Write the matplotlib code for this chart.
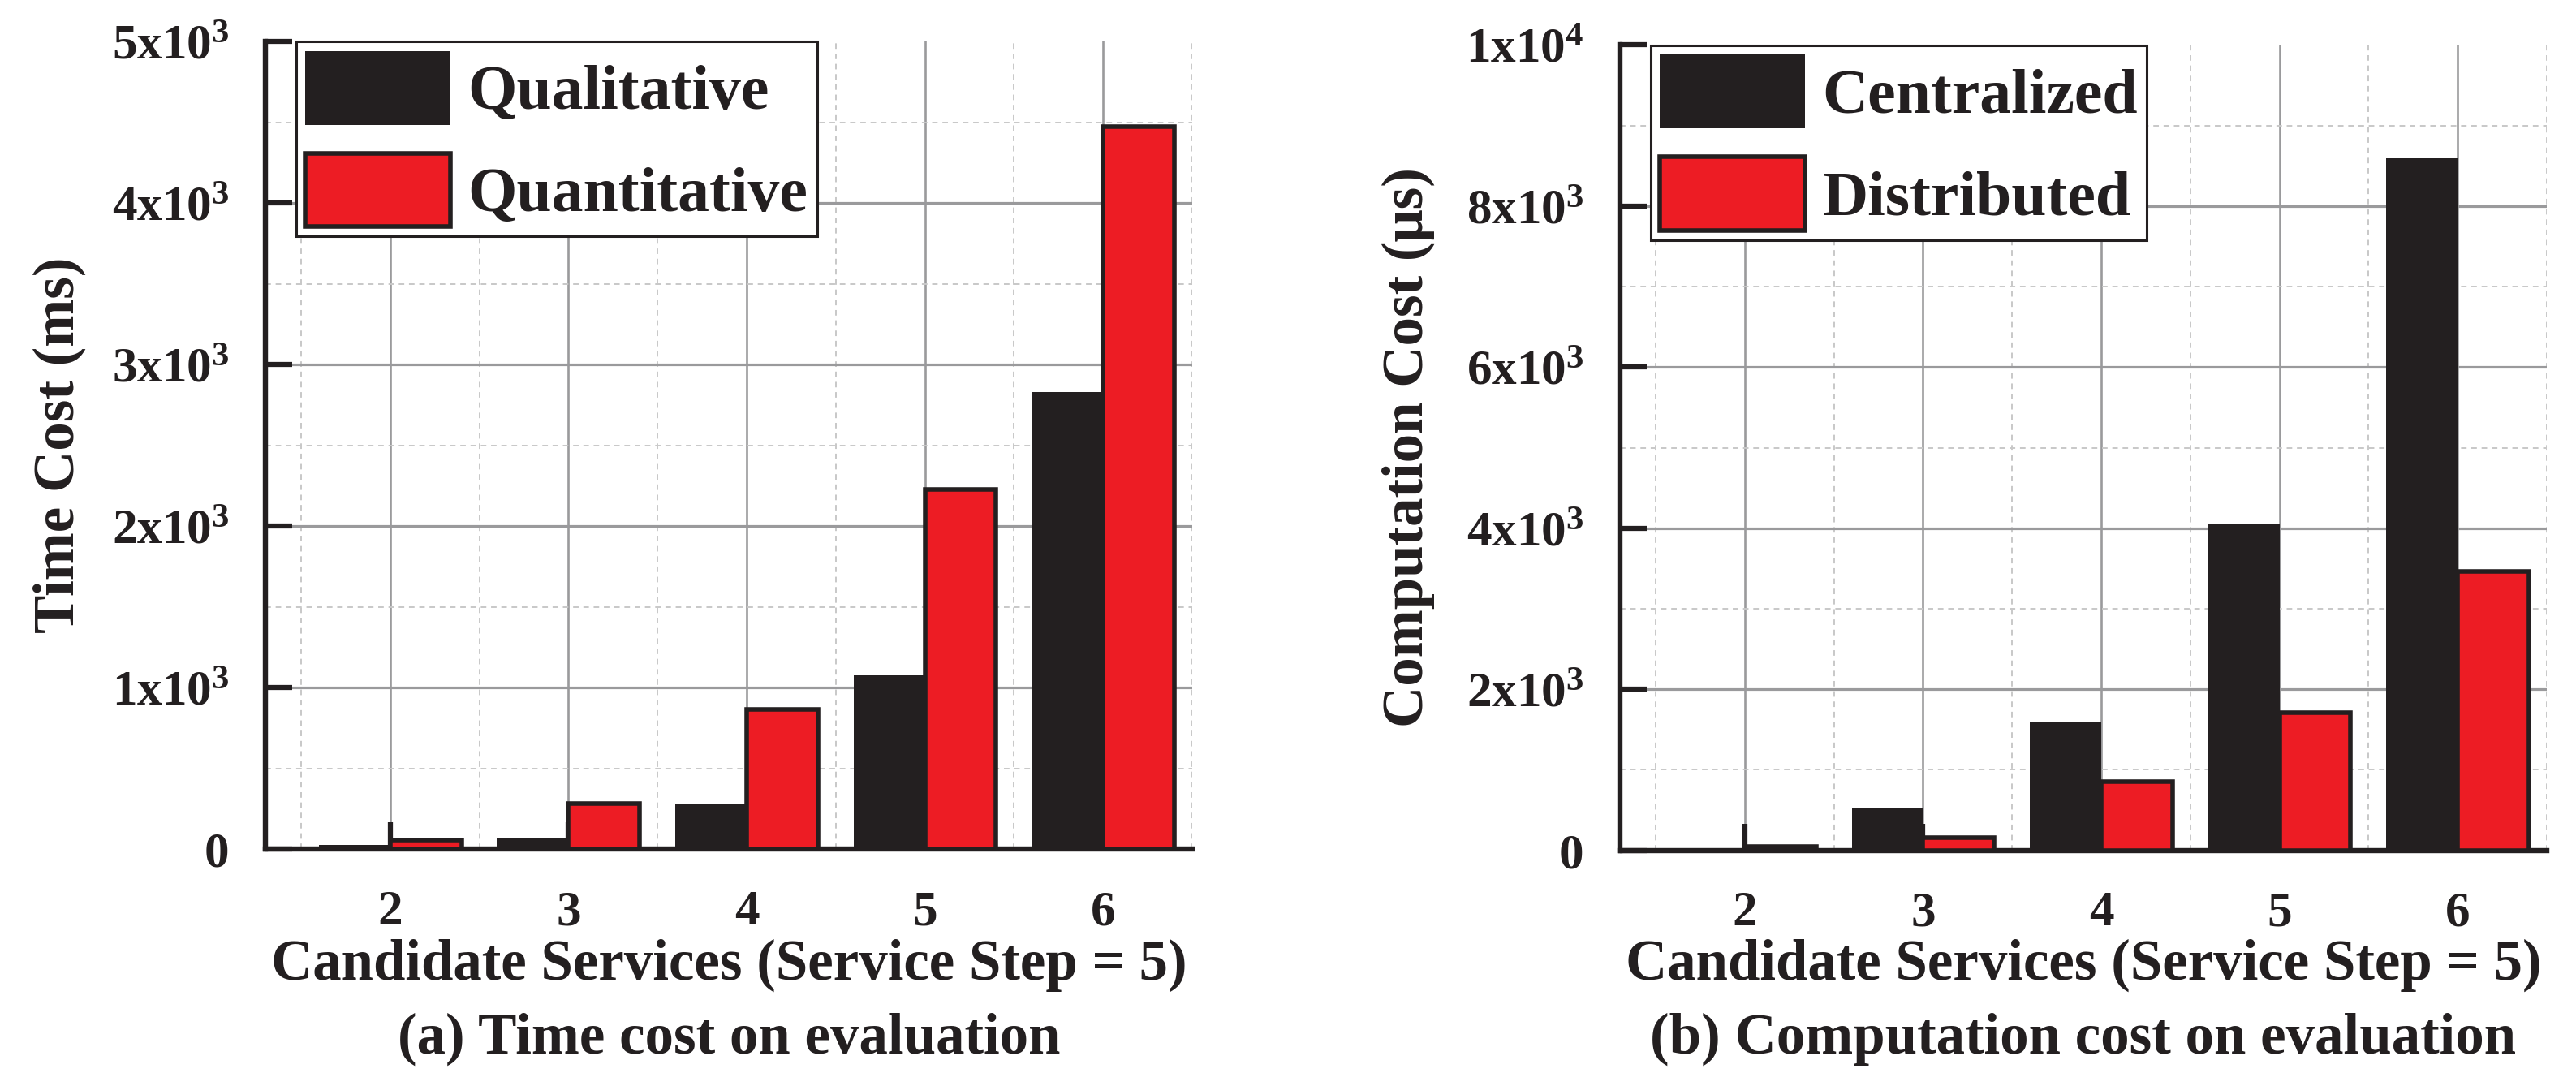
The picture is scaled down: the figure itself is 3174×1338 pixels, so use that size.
import matplotlib
matplotlib.use('Agg')
import matplotlib.pyplot as plt
import matplotlib.transforms as mtransforms
from matplotlib.patches import Patch
from matplotlib.ticker import FixedLocator
import numpy as np

# ---------------- data ----------------
categories = [2, 3, 4, 5, 6]

qualitative = [25, 68, 280, 1075, 2830]
quantitative = [57, 282, 865, 2225, 4472]

centralized = [0, 515, 1590, 4055, 8590]
distributed = [45, 160, 848, 1710, 3460]

left_yticks = [0, 1000, 2000, 3000, 4000, 5000]
left_yticklabels = ['0', '1x10$^{3}$', '2x10$^{3}$', '3x10$^{3}$', '4x10$^{3}$', '5x10$^{3}$']
right_yticks = [0, 2000, 4000, 6000, 8000, 10000]
right_yticklabels = ['0', '2x10$^{3}$', '4x10$^{3}$', '6x10$^{3}$', '8x10$^{3}$', '1x10$^{4}$']

left_names = ['Qualitative', 'Quantitative']
right_names = ['Centralized', 'Distributed']
left_ylabel = 'Time Cost (ms)'
right_ylabel = 'Computation Cost (\u03bcs)'
xlabel_text = 'Candidate Services (Service Step = 5)'
left_title = '(a) Time cost on evaluation'
right_title = '(b) Computation cost on evaluation'

# ---------------- style ----------------
BLACK = '#231f20'
RED = '#ed1c24'
GRID = '#9a9a9c'
MINOR = '#c8c8c8'

plt.rcParams['font.family'] = ['Liberation Serif', 'DejaVu Serif']
plt.rcParams['font.weight'] = 'bold'
plt.rcParams['mathtext.fontset'] = 'custom'
plt.rcParams['mathtext.rm'] = 'Liberation Serif:bold'
plt.rcParams['mathtext.bf'] = 'Liberation Serif:bold'
plt.rcParams['mathtext.it'] = 'Liberation Serif:bold'
plt.rcParams['mathtext.default'] = 'regular'
plt.rcParams['text.color'] = BLACK
plt.rcParams['axes.labelcolor'] = BLACK
plt.rcParams['xtick.labelcolor'] = BLACK
plt.rcParams['ytick.labelcolor'] = BLACK

W, H = 3174, 1338
fig = plt.figure(figsize=(W / 100, H / 100), dpi=100)

ax1 = fig.add_axes([327 / W, 1 - 1046 / H, 1142 / W, 995 / H])
ax2 = fig.add_axes([1996 / W, 1 - 1047.5 / H, 1142 / W, 992 / H])


def draw(ax, s1, s2, names, yticks, yticklabels, ylabel, title, ylabel_x):
    x = np.array(categories, dtype=float)
    ax.bar(x - 0.2, s1, 0.4, color=BLACK, linewidth=0, zorder=3)
    ax.bar(x + 0.2, s2, 0.4, color=RED, edgecolor=BLACK, linewidth=4, zorder=3)

    ax.set_xlim(1.3, 6.5)
    ax.set_ylim(yticks[0], yticks[-1])
    ax.set_xticks(categories)
    ax.set_xticklabels([str(c) for c in categories])
    ax.set_yticks(yticks)
    ax.set_yticklabels(yticklabels)
    step = yticks[1] - yticks[0]
    ax.yaxis.set_minor_locator(FixedLocator([t + step / 2 for t in yticks[:-1]]))
    ax.xaxis.set_minor_locator(FixedLocator([c + 0.5 for c in [1] + categories]))

    ax.set_axisbelow(True)
    ax.grid(which='major', axis='y', color=GRID, linewidth=2.3)
    ax.grid(which='major', axis='x', color=GRID, linewidth=1.9)
    ax.grid(which='minor', axis='both', color=MINOR, linewidth=1.4,
            linestyle=(0, (3.5, 3.0)))
    ax.yaxis.get_major_ticks()[-1].gridline.set_visible(False)

    for side in ('top', 'right'):
        ax.spines[side].set_visible(False)
    for side in ('left', 'bottom'):
        ax.spines[side].set_linewidth(4.6)
        ax.spines[side].set_color(BLACK)

    ax.tick_params(which='major', direction='in', length=24, width=4.5,
                   color=BLACK, labelsize=44, top=False, right=False)
    ax.tick_params(which='minor', length=0, width=0)
    ax.tick_params(axis='x', which='major', pad=36)
    ax.tick_params(axis='y', which='major', pad=32)

    ax.set_ylabel(ylabel, fontsize=51, fontweight='bold')
    ax.yaxis.set_label_coords(ylabel_x, 0.5)

    tr = mtransforms.blended_transform_factory(ax.transAxes, fig.transFigure)
    ax.text(0.5, 1 - 1206.5 / H, xlabel_text, transform=tr, ha='center',
            va='baseline', fontsize=51, fontweight='bold')
    ax.text(0.5, 1 - 1298 / H, title, transform=tr, ha='center',
            va='baseline', fontsize=51, fontweight='bold')

    handles = [Patch(facecolor=BLACK, edgecolor=BLACK, linewidth=0),
               Patch(facecolor=RED, edgecolor=BLACK, linewidth=4)]
    leg = ax.legend(handles, names, loc='upper left', bbox_to_anchor=(0.033, 1.0),
                    borderaxespad=0, fontsize=56, handlelength=2.3,
                    handleheight=1.42, handletextpad=0.27, labelspacing=0.45,
                    borderpad=0.15, frameon=True, fancybox=False,
                    edgecolor=BLACK, framealpha=1)
    leg.get_frame().set_linewidth(2.2)


draw(ax1, qualitative, quantitative, left_names, left_yticks, left_yticklabels,
     left_ylabel, left_title, -0.1935)
draw(ax2, centralized, distributed, right_names, right_yticks, right_yticklabels,
     right_ylabel, right_title, -0.1996)

fig.savefig('out.png', dpi=100)
